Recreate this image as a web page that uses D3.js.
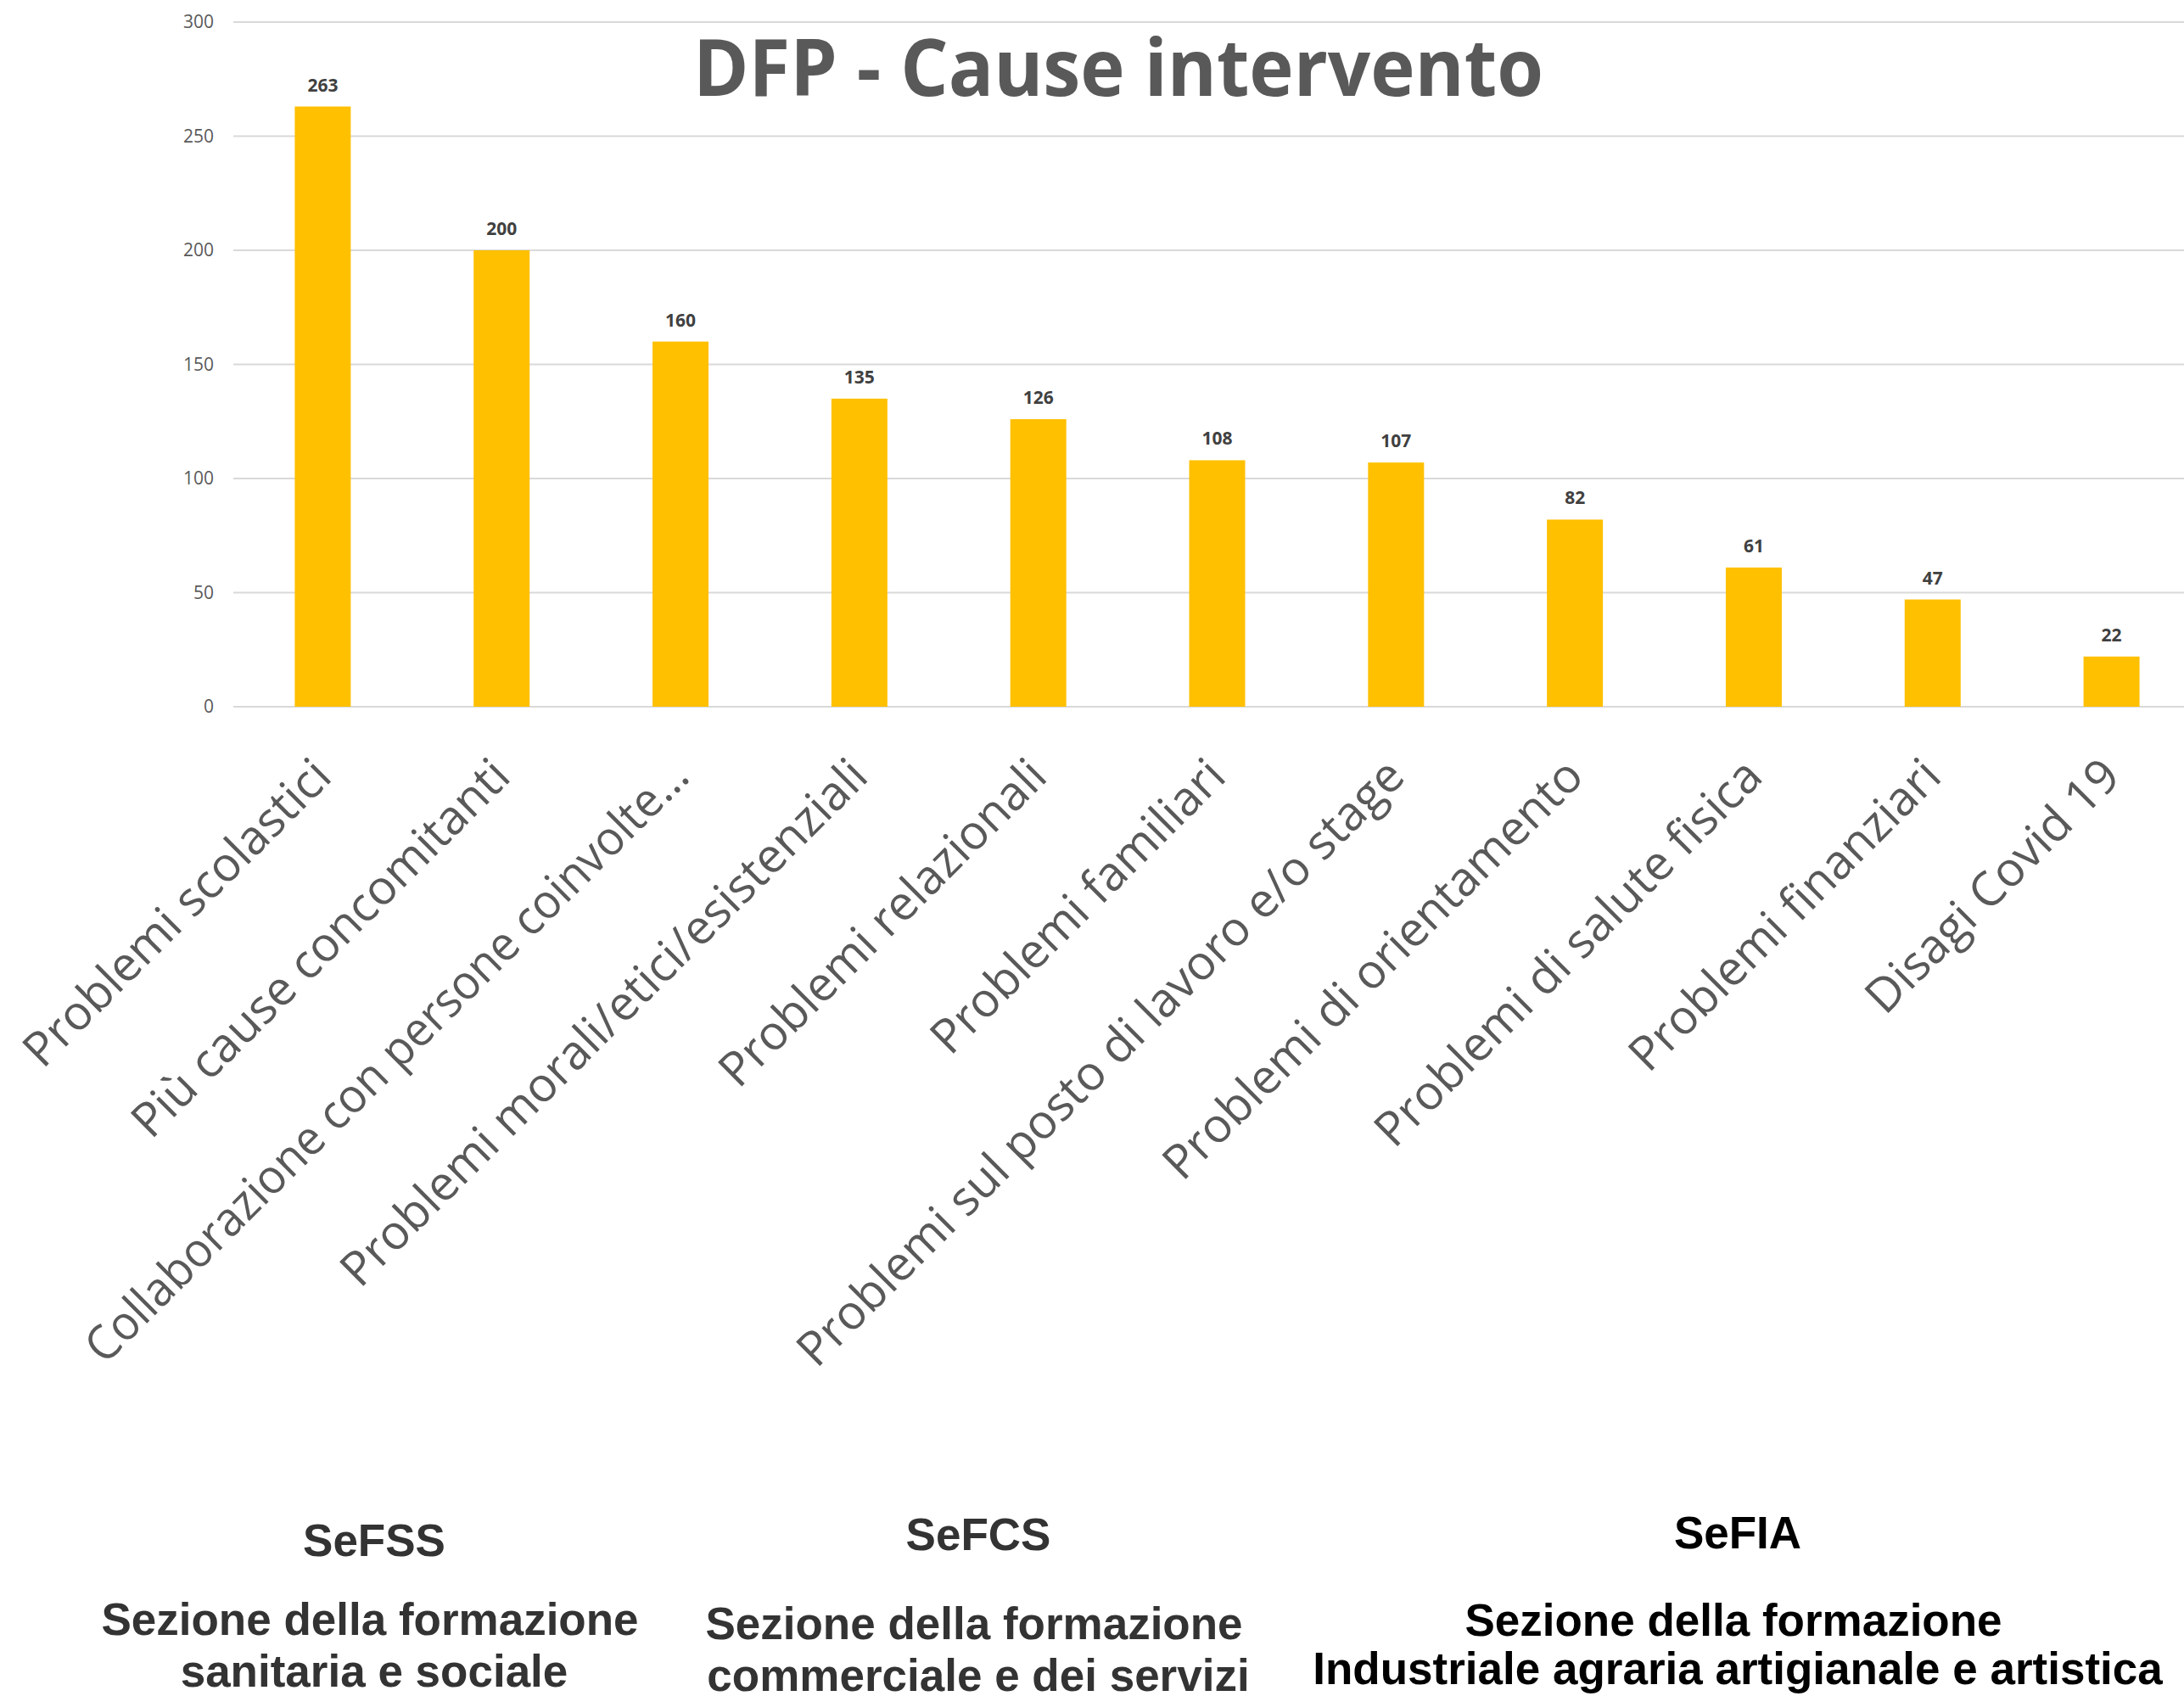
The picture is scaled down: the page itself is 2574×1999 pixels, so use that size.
<!DOCTYPE html>
<html>
<head>
<meta charset="utf-8">
<script src="https://cdn.jsdelivr.net/npm/d3@7"></script>
<style>
  body { margin: 0; background: #fff; }
  .tick-label { font-family: "Open Sans", sans-serif; font-size: 21px; fill: #595959; }
  .cat-label { font-family: "Open Sans", sans-serif; font-size: 56px; fill: #595959; }
  .value-label { font-family: "Open Sans", sans-serif; font-size: 21px; font-weight: 700; fill: #404040; }
  .title { font-family: "Open Sans", sans-serif; font-size: 94px; font-weight: 700; fill: #595959; }
  .section { font-family: "Liberation Sans", Arial, sans-serif; font-size: 53px; font-weight: 700; }
</style>
</head>
<body>
<div id="chart"></div>
<script>
// data
const categories = [
  "Problemi scolastici",
  "Più cause concomitanti",
  "Collaborazione con persone coinvolte…",
  "Problemi morali/etici/esistenziali",
  "Problemi relazionali",
  "Problemi familiari",
  "Problemi sul posto di lavoro e/o stage",
  "Problemi di orientamento",
  "Problemi di salute fisica",
  "Problemi finanziari",
  "Disagi Covid 19"
];
const values = [263, 200, 160, 135, 126, 108, 107, 82, 61, 47, 22];
const yTicks = [0, 50, 100, 150, 200, 250, 300];

const sectionCodes = ["SeFSS", "SeFCS", "SeFIA"];
const sectionLines = [
  ["Sezione della formazione", "sanitaria e sociale"],
  ["Sezione della formazione", "commerciale e dei servizi"],
  ["Sezione della formazione", "Industriale agraria artigianale e artistica"]
];

const width = 2574, height = 1999;
const margin = { top: 26, left: 275, bottom: 833 };

const svg = d3.select("#chart").append("svg")
  .attr("width", width).attr("height", height);

// scales
const x = d3.scaleBand()
  .domain(categories)
  .range([margin.left, 2594])
  .paddingInner(0.687)
  .paddingOuter(0.3435);

const y = d3.scaleLinear().domain([0, 300]).range([margin.bottom, margin.top]);

// grid
svg.append("g")
  .selectAll("line")
  .data(yTicks)
  .join("line")
  .attr("x1", margin.left).attr("x2", width)
  .attr("y1", d => y(d)).attr("y2", d => y(d))
  .attr("stroke", "#d9d9d9")
  .attr("stroke-width", 2);

// y axis labels
const yAxis = d3.axisLeft(y).tickValues(yTicks).tickSize(0).tickPadding(0);
svg.append("g")
  .attr("transform", `translate(252,0)`)
  .call(yAxis)
  .call(g => g.select(".domain").remove())
  .call(g => g.selectAll("text").attr("class", "tick-label").attr("font-family", null).attr("font-size", null).attr("fill", null));

// bars
svg.append("g")
  .selectAll("rect")
  .data(values)
  .join("rect")
  .attr("x", (d, i) => x(categories[i]))
  .attr("y", d => y(d))
  .attr("width", x.bandwidth())
  .attr("height", d => y(0) - y(d))
  .attr("fill", "#FFC000");

// value labels
svg.append("g")
  .selectAll("text")
  .data(values)
  .join("text")
  .attr("class", "value-label")
  .attr("x", (d, i) => x(categories[i]) + x.bandwidth() / 2)
  .attr("y", d => y(d) - 18)
  .attr("text-anchor", "middle")
  .text(d => d);

// category labels
svg.append("g")
  .selectAll("text")
  .data(categories)
  .join("text")
  .attr("class", "cat-label")
  .attr("text-anchor", "end")
  .attr("transform", d => `translate(${x(d) + x.bandwidth() / 2 + 13},918) rotate(-45)`)
  .text(d => d)
  .each(function (d) {
    // truncated label: the ellipsis is wider here than in the original
    if (d.endsWith("…")) {
      const len = this.getComputedTextLength();
      d3.select(this).attr("textLength", len - 45).attr("lengthAdjust", "spacingAndGlyphs");
    }
  });

// title
svg.append("text")
  .attr("class", "title")
  .attr("x", 1318)
  .attr("y", 113)
  .attr("text-anchor", "middle")
  .attr("textLength", 1002)
  .attr("lengthAdjust", "spacingAndGlyphs")
  .text("DFP - Cause intervento");

// sections below
const sectionX = [441, 1153, 2048];
const codeY = [1834, 1827, 1825];
const lineY = [[1927, 1988], [1932, 1993], [1928, 1985]];
const sectionColor = ["#333333", "#333333", "#000000"];

sectionCodes.forEach((code, i) => {
  svg.append("text")
    .attr("class", "section")
    .attr("x", sectionX[i]).attr("y", codeY[i])
    .attr("text-anchor", "middle")
    .attr("fill", sectionColor[i])
    .text(code);
  sectionLines[i].forEach((line, j) => {
    svg.append("text")
      .attr("class", "section")
      .attr("x", sectionX[i] - (j === 0 ? 5 : 0)).attr("y", lineY[i][j])
      .attr("text-anchor", "middle")
      .attr("fill", sectionColor[i])
      .text(line);
  });
});
</script>
</body>
</html>
